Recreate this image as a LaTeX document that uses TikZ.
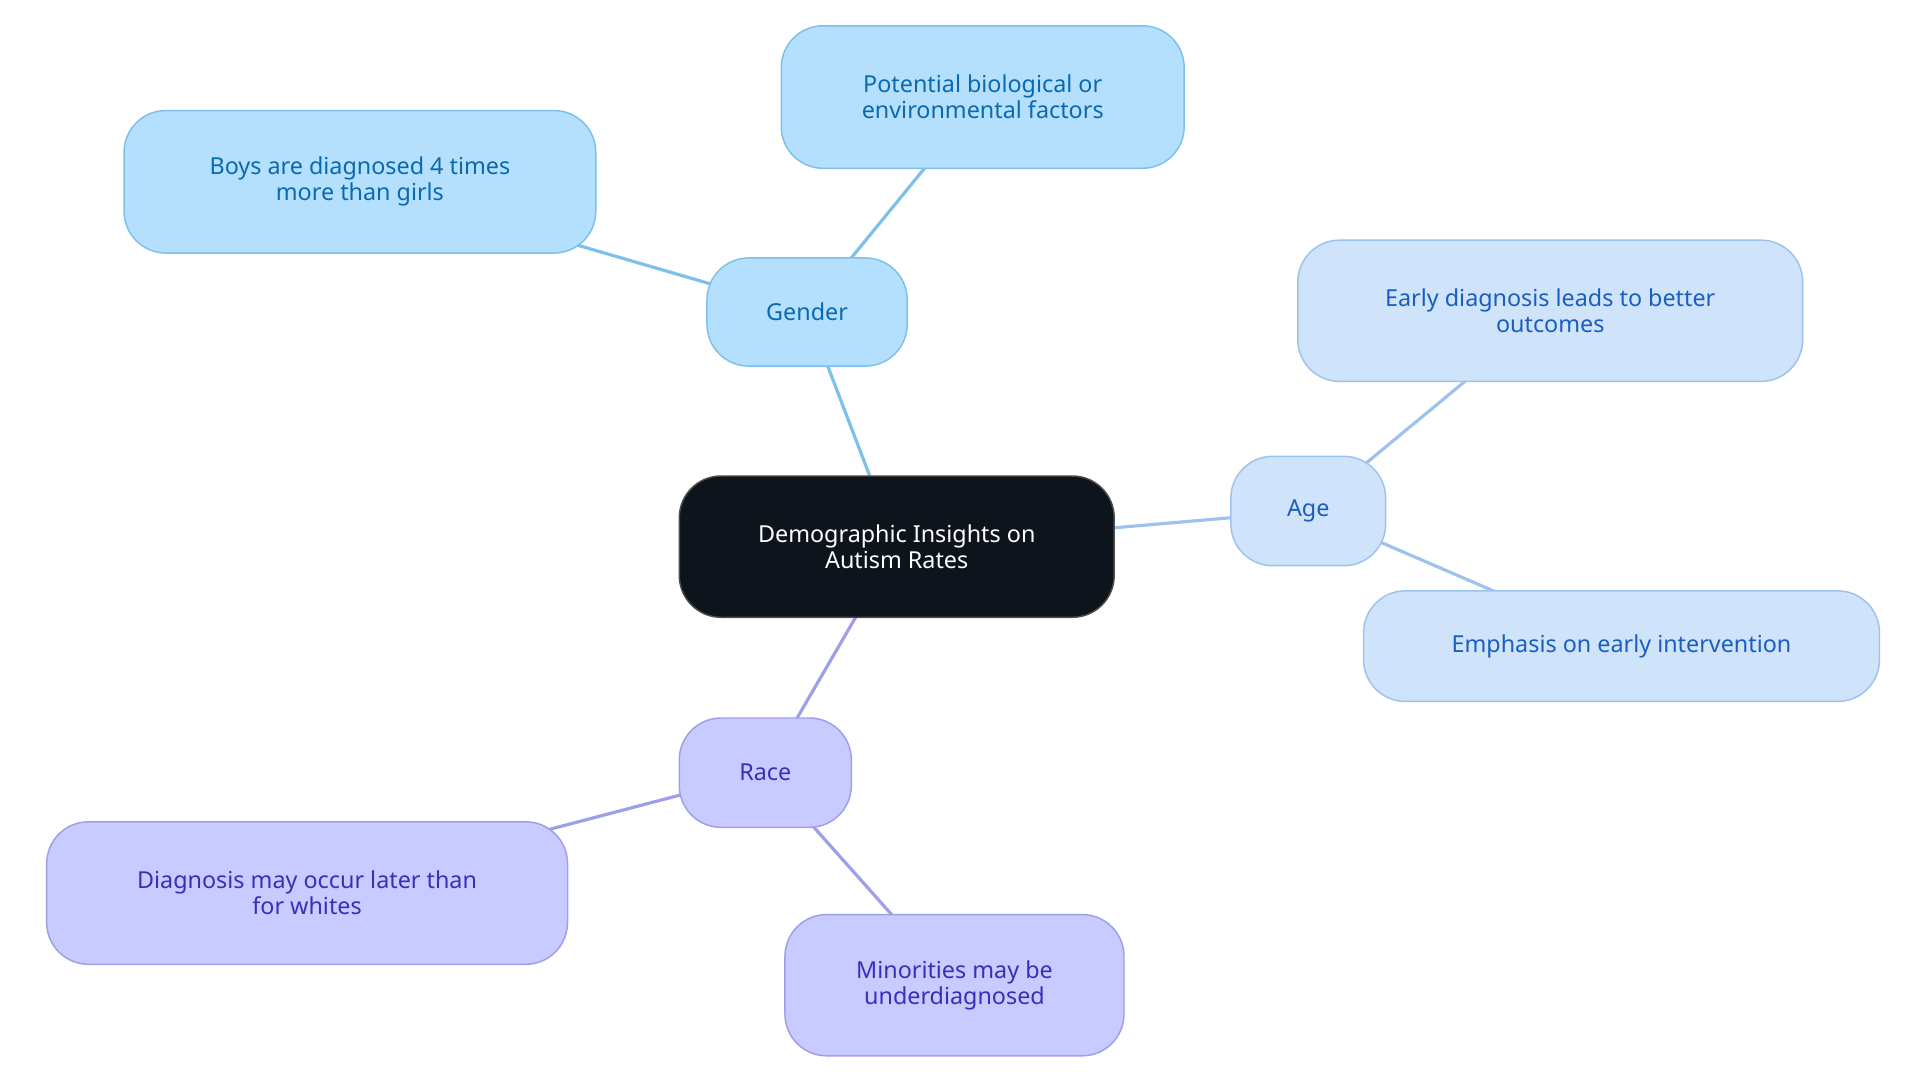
\documentclass[tikz,border=0pt]{standalone}
\usepackage{fontspec}
\setmainfont{Noto Sans}
\definecolor{rootfill}{HTML}{0D141B}
\definecolor{gfill}{HTML}{B4DFFD}\definecolor{gline}{HTML}{7DC0EA}\definecolor{gtext}{HTML}{0A6AAF}
\definecolor{afill}{HTML}{CFE3FA}\definecolor{aline}{HTML}{9DC3EC}\definecolor{atext}{HTML}{1A5FBF}
\definecolor{rfill}{HTML}{C8CBFF}\definecolor{rline}{HTML}{9D9FE8}\definecolor{rtext}{HTML}{3730B8}
\tikzset{every picture/.style={line width=0.75pt}}
\tikzset{
  box/.style={rounded corners=34pt, line width=1.2pt, align=center, font=\fontsize{19}{21}\selectfont, inner sep=0pt},
  gbox/.style={box, fill=gfill, draw=gline, text=gtext},
  abox/.style={box, fill=afill, draw=aline, text=atext},
  rbox/.style={box, fill=rfill, draw=rline, text=rtext},
  glink/.style={draw=gline, line width=2.6pt},
  alink/.style={draw=aline, line width=2.6pt},
  rlink/.style={draw=rline, line width=2.6pt},
}
\begin{document}
\begin{tikzpicture}[x=1pt,y=1pt,yscale=-1,xscale=1]
\useasboundingbox (0,0) rectangle (1563,882);

% links
\draw[glink] (657,254) -- (730,445);
\draw[glink] (657,254) -- (293,148);
\draw[glink] (657,254) -- (800,79);
\draw[alink] (1065,416) -- (730,445);
\draw[alink] (1065,416) -- (1262,253);
\draw[alink] (1065,416) -- (1320,526);
\draw[rlink] (623,629) -- (730,445);
\draw[rlink] (623,629) -- (250,727);
\draw[rlink] (623,629) -- (777,802);

% Text Node
\node[box, fill=rootfill, draw=black!70, text=white, minimum width=354pt, minimum height=115pt] (root) at (730,445) {Demographic Insights on\\Autism Rates};
% Gender
\node[gbox, minimum width=163pt, minimum height=88pt] (gender) at (657,254) {Gender};
\node[gbox, minimum width=384pt, minimum height=116pt] (boys) at (293,148) {Boys are diagnosed 4 times\\more than girls};
\node[gbox, minimum width=328pt, minimum height=116pt] (factors) at (800,79) {Potential biological or\\environmental factors};
% Age
\node[abox, minimum width=126pt, minimum height=89pt] (age) at (1065,416) {Age};
\node[abox, minimum width=411pt, minimum height=115pt] (early) at (1262,253) {Early diagnosis leads to better\\outcomes};
\node[abox, minimum width=420pt, minimum height=90pt] (emph) at (1320,526) {Emphasis on early intervention};
% Race
\node[rbox, minimum width=140pt, minimum height=89pt] (race) at (623,629) {Race};
\node[rbox, minimum width=424pt, minimum height=116pt] (later) at (250,727) {Diagnosis may occur later than\\for whites};
\node[rbox, minimum width=276pt, minimum height=115pt] (minor) at (777,802) {Minorities may be\\underdiagnosed};

\end{tikzpicture}
\end{document}
